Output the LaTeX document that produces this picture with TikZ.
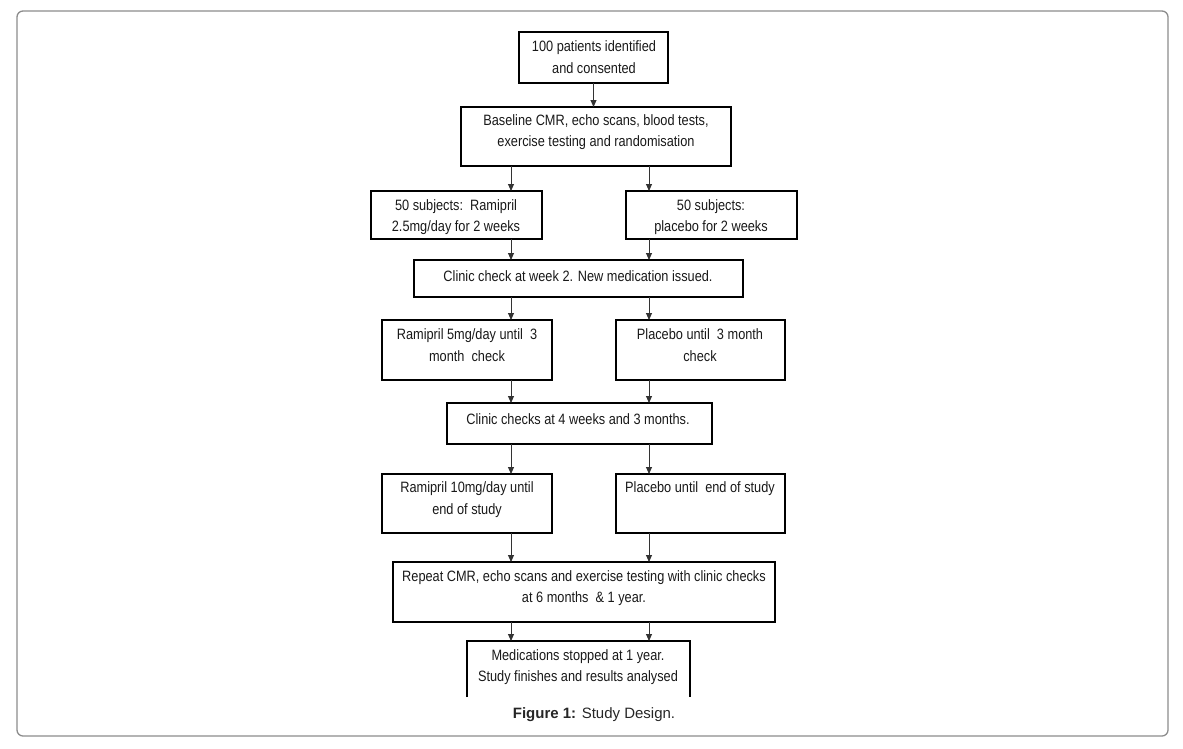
\documentclass[tikz,border=0pt]{standalone}
\usepackage{fontspec}
\setmainfont{Liberation Sans}[FakeStretch=0.85]
\newfontfamily\capfont{Liberation Sans}
\usetikzlibrary{arrows.meta}
\begin{document}
\begin{tikzpicture}[x=1pt,y=-1pt,
  box/.style={draw=black, line width=2.6pt, inner sep=0pt, outer sep=0pt},
  openbox/.style={inner sep=0pt, outer sep=0pt},
  txt/.style={align=center, inner sep=0pt, font=\fontsize{15}{21.5}\selectfont, text=black!90},
  arr/.style={draw=black!80, line width=0.9pt, -{Triangle[length=7pt,width=6pt]}},
  frame/.style={draw=black!45, line width=1.3pt, rounded corners=6pt}]
\useasboundingbox (0,0) rectangle (1183,748);
\draw[frame] (17,11) rectangle (1168,736);
\coordinate (cl) at (511,0);
\coordinate (cr) at (649,0);
% boxes
\node[box, minimum width=149pt, minimum height=51pt] (b1) at (593.5,57.5) {};
\node[box, minimum width=270pt, minimum height=59pt] (b2) at (596,136.5) {};
\node[box, minimum width=171pt, minimum height=48pt] (b3l) at (456.5,215) {};
\node[box, minimum width=171pt, minimum height=48pt] (b3r) at (711.5,215) {};
\node[box, minimum width=329pt, minimum height=37pt] (b4) at (578.5,278.5) {};
\node[box, minimum width=170pt, minimum height=60pt] (b5l) at (467,350) {};
\node[box, minimum width=169pt, minimum height=60pt] (b5r) at (700.5,350) {};
\node[box, minimum width=265pt, minimum height=41pt] (b6) at (579.5,423.5) {};
\node[box, minimum width=170pt, minimum height=59pt] (b7l) at (467,503.5) {};
\node[box, minimum width=169pt, minimum height=59pt] (b7r) at (700.5,503.5) {};
\node[box, minimum width=382pt, minimum height=60pt] (b8) at (584,592) {};
\node[openbox, minimum width=223pt, minimum height=56pt] (b9) at (578.5,669) {};
\draw[line width=2.6pt] (b9.south west) -- (b9.north west) -- (b9.north east) -- (b9.south east);
% texts
\node[txt] (t1) at (594,57) {100 patients identified\\and consented};
\node[txt] (t2) at (596,132) {Baseline CMR, echo scans, blood tests,\\exercise testing and randomisation};
\node[txt] (t3l) at (456,217) {50 subjects:\ \ Ramipril\\2.5mg/day for 2 weeks};
\node[txt] (t3r) at (711,217) {50 subjects:\\placebo for 2 weeks};
\node[txt] (t4) at (578,276) {Clinic check at week 2. New medication issued.};
\node[txt] (t5l) at (467,345) {Ramipril 5mg/day until\ \ 3\\month\ \ check};
\node[txt] (t5r) at (700,345) {Placebo until\ \ 3 month\\check};
\node[txt] (t6) at (578,419) {Clinic checks at 4 weeks and 3 months.};
\node[txt] (t7l) at (467,499.5) {Ramipril 10mg/day until\\end of study};
\node[txt] (t7r) at (700,489) {Placebo until\ \ end of study};
\node[txt] (t8) at (584,588) {Repeat CMR, echo scans and exercise testing with clinic checks\\at 6 months\ \ \& 1 year.};
\node[txt] (t9) at (578,667) {Medications stopped at 1 year.\\Study finishes and results analysed};
\node[inner sep=0pt, font=\capfont\fontsize{15}{18}\selectfont, text=black!85] (cap) at (594,715) {\textbf{Figure 1:} Study Design.};
% arrows
\draw[arr] (b1.south) -- (b1.south |- b2.north);
\draw[arr] (b2.south -| cl) -- (b3l.north -| cl);
\draw[arr] (b2.south -| cr) -- (b3r.north -| cr);
\draw[arr] (b3l.south -| cl) -- (b4.north -| cl);
\draw[arr] (b3r.south -| cr) -- (b4.north -| cr);
\draw[arr] (b4.south -| cl) -- (b5l.north -| cl);
\draw[arr] (b4.south -| cr) -- (b5r.north -| cr);
\draw[arr] (b5l.south -| cl) -- (b6.north -| cl);
\draw[arr] (b5r.south -| cr) -- (b6.north -| cr);
\draw[arr] (b6.south -| cl) -- (b7l.north -| cl);
\draw[arr] (b6.south -| cr) -- (b7r.north -| cr);
\draw[arr] (b7l.south -| cl) -- (b8.north -| cl);
\draw[arr] (b7r.south -| cr) -- (b8.north -| cr);
\draw[arr] (b8.south -| cl) -- (b9.north -| cl);
\draw[arr] (b8.south -| cr) -- (b9.north -| cr);
\end{tikzpicture}
\end{document}
